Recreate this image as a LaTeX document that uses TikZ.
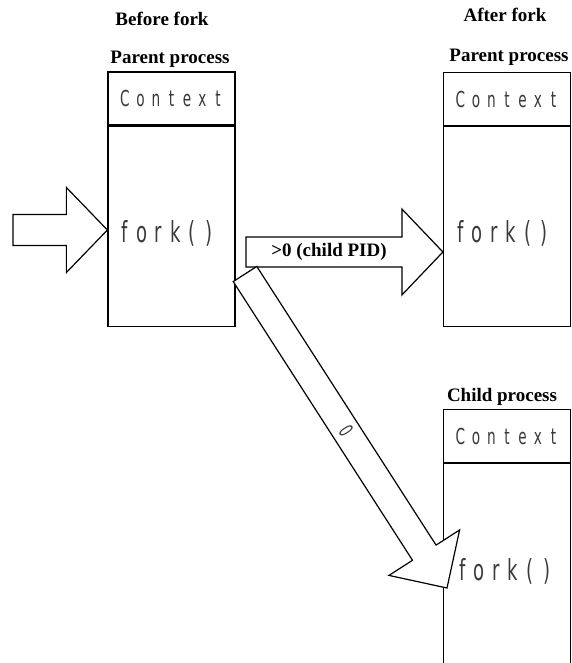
\documentclass[tikz,border=0pt]{standalone}
\usepackage{fontspec}
\usetikzlibrary{calc}
\setmainfont{Liberation Serif}
\newfontfamily\boxfont[FakeStretch=0.62]{DejaVu Sans}
\definecolor{inkgray}{HTML}{3A3A3A}
\makeatletter
% typeset each character in a cell of fixed width (evenly spaced lettering)
\newcommand\spacedtext[2]{\@tfor\spc@ch:=#2\do{\makebox[#1]{\spc@ch}}}
\makeatother
% hollow block arrow: from, to, shaft half-width, head half-width, head length
\newcommand\blockarrow[5]{%
  \filldraw[barrow]
    ($(#1)!#3!90:(#2)$)
    -- ($(#2)!#5!(#1)!#3!-90:(#1)$)
    -- ($(#2)!#5!(#1)!#4!-90:(#1)$)
    -- (#2)
    -- ($(#2)!#5!(#1)!#4!90:(#1)$)
    -- ($(#2)!#5!(#1)!#3!90:(#1)$)
    -- ($(#1)!#3!-90:(#2)$)
    -- cycle;}
\begin{document}
\begin{tikzpicture}[x=1bp,y=-1bp,
  outline/.style={draw=black, line width=1.2bp},
  ctxbox/.style={outline, minimum width=127bp, minimum height=53bp, inner sep=0pt,
    text=inkgray, font=\boxfont\fontsize{22bp}{26bp}\selectfont},
  bodybox/.style={outline, minimum width=127bp, inner sep=0pt},
  forktext/.style={anchor=west, inner sep=0pt, text=inkgray,
    font=\boxfont\fontsize{29bp}{32bp}\selectfont},
  title/.style={inner sep=0pt, font=\bfseries\fontsize{19bp}{21bp}\selectfont},
  barrow/.style={fill=white, draw=black, line width=1.2bp, line join=miter},
  arrowlabel/.style={inner sep=0pt, font=\bfseries\fontsize{19bp}{21bp}\selectfont},
]
\useasboundingbox (0,0) rectangle (572,663);
\clip (0,0) rectangle (572,663);

% parent process before fork
\node[ctxbox] (ctx1) at (171.5,98.5) {\spacedtext{15.5bp}{Context}};
\node[bodybox, minimum height=200bp, anchor=north] (body1) at (ctx1.south) {};
\node[forktext] (fork1) at ($(body1.west)+(9,7)$) {\spacedtext{16.8bp}{fork()}};
\node[title] (before) at (162,19) {Before fork};
\node[title] (parent1) at (170,59) {Parent process};

% parent process after fork
\node[ctxbox] (ctx2) at (507,99) {\spacedtext{15.5bp}{Context}};
\node[bodybox, minimum height=200bp, anchor=north] (body2) at (ctx2.south) {};
\node[forktext] (fork2) at ($(body2.west)+(9,7)$) {\spacedtext{16.8bp}{fork()}};
\node[title] (after) at (505,15) {After fork};
\node[title] (parent2) at (509,57) {Parent process};

% child process after fork
\node[ctxbox] (ctx3) at (507,436) {\spacedtext{15.5bp}{Context}};
\node[bodybox, minimum height=240bp, anchor=north] (body3) at (ctx3.south) {};
\node[forktext] (fork3) at (454,571) {\spacedtext{16.8bp}{fork()}};
\node[title] (child) at (502,397) {Child process};

% arrow ends
\coordinate (inTail) at (13,230);
\coordinate (inTip) at (body1.west |- inTail);
\coordinate (pidTail) at (246,252);
\coordinate (pidTip) at (body2.west |- pidTail);
\coordinate (zeroTail) at (245,274);
\coordinate (zeroTip) at (447,588);

% block arrows
\blockarrow{inTail}{inTip}{15.5bp}{42.5bp}{41bp}
\blockarrow{pidTail}{pidTip}{15bp}{43bp}{41bp}
\blockarrow{zeroTail}{zeroTip}{14bp}{42bp}{42bp}

\node[arrowlabel] (pidlabel) at (329,252) {>0 (child PID)};
\node[inner sep=0pt, rotate=-57, text=inkgray, font=\boxfont\fontsize{20bp}{22bp}\selectfont]
  (zerolabel) at ($(zeroTail)!0.5!(zeroTip)$) {0};
\end{tikzpicture}
\end{document}
